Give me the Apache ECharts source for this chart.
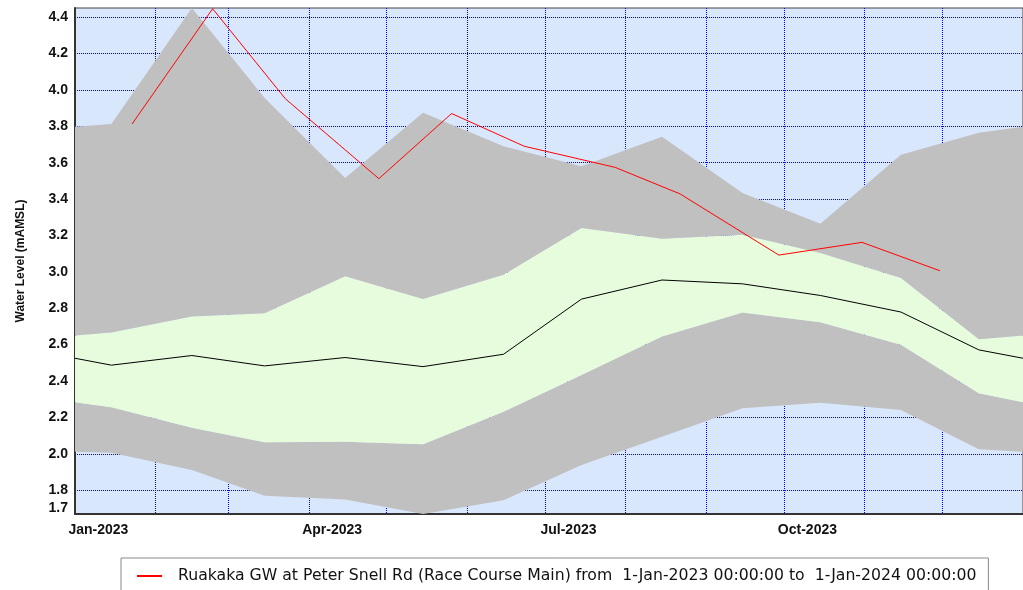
<!DOCTYPE html>
<html>
<head>
<meta charset="utf-8">
<script src="https://cdn.jsdelivr.net/npm/echarts@6/dist/echarts.min.js"></script>
<style>
html, body { margin: 0; padding: 0; background: #fff; }
#chart { width: 1023px; height: 590px; }
</style>
</head>
<body>
<div id="chart"></div>
<script>
// band statistics, one point per mid-month (plus wrap-around year ends)
var bandDates = ['2023-01-01', '2023-01-15', '2023-02-15', '2023-03-15', '2023-04-15', '2023-05-15',
    '2023-06-15', '2023-07-15', '2023-08-15', '2023-09-15', '2023-10-15', '2023-11-15', '2023-12-15', '2024-01-01'];
var bandMax = [3.797, 3.813, 4.45, 3.956, 3.516, 3.874, 3.69, 3.58, 3.742, 3.433, 3.264, 3.644, 3.764, 3.797];
var bandUpper = [2.650, 2.666, 2.754, 2.773, 2.976, 2.85, 2.984, 3.241, 3.182, 3.204, 3.103, 2.966, 2.630, 2.650];
var bandMedian = [2.525, 2.487, 2.540, 2.483, 2.529, 2.479, 2.547, 2.850, 2.955, 2.934, 2.870, 2.779, 2.571, 2.525];
var bandLower = [2.283, 2.256, 2.143, 2.063, 2.066, 2.052, 2.231, 2.433, 2.644, 2.776, 2.723, 2.599, 2.333, 2.283];
var bandMin = [2.011, 2.005, 1.911, 1.769, 1.749, 1.669, 1.745, 1.938, 2.094, 2.250, 2.281, 2.241, 2.025, 2.011];

// 2023 readings
var obsDates = ['2023-01-23', '2023-02-23', '2023-03-23', '2023-04-28', '2023-05-26', '2023-06-23',
    '2023-07-28', '2023-08-22', '2023-09-29', '2023-10-31', '2023-11-30'];
var obsLevels = [3.813, 4.446, 3.951, 3.512, 3.870, 3.690, 3.574, 3.428, 3.092, 3.162, 3.006];

var seriesName = 'Ruakaka GW at Peter Snell Rd (Race Course Main) from  1-Jan-2023 00:00:00 to  1-Jan-2024 00:00:00';

var yLabels = [1.7, 1.8, 2.0, 2.2, 2.4, 2.6, 2.8, 3.0, 3.2, 3.4, 3.6, 3.8, 4.0, 4.2, 4.4];
var yGrid = [1.8, 2.0, 2.2, 2.4, 2.6, 2.8, 3.0, 3.2, 3.4, 3.6, 3.8, 4.0, 4.2, 4.4];
var monthNames = ['Jan', 'Feb', 'Mar', 'Apr', 'May', 'Jun', 'Jul', 'Aug', 'Sep', 'Oct', 'Nov', 'Dec'];
var xLabelMonths = [0, 3, 6, 9];
var xGridMonths = [1, 2, 3, 4, 5, 6, 7, 8, 9, 10, 11];

function ts(s) {
    var p = s.split('-');
    return new Date(+p[0], +p[1] - 1, +p[2]).getTime();
}
function pairs(dates, vals) {
    return dates.map(function (d, i) { return [ts(d), vals[i]]; });
}
function diff(a, b) {
    return a.map(function (v, i) { return +(v - b[i]).toFixed(4); });
}

var gray = '#c0c0c0';
var green = '#e6fcdc';
var xMin = ts('2023-01-01');
var xMax = ts('2024-01-01');

function bandSeries(name, vals, fill) {
    var s = {
        name: name, type: 'line', stack: 'band', symbol: 'none', silent: true,
        lineStyle: { width: 0, opacity: 0 },
        data: pairs(bandDates, vals)
    };
    if (fill) s.areaStyle = { color: fill, opacity: 1 };
    return s;
}

var myChart = echarts.init(document.getElementById('chart'));
var option = {
    animation: false,
    grid: {
        left: 75, top: 8, width: 956, height: 506,
        show: true,
        backgroundColor: '#d9e7fc',
        borderColor: '#444',
        borderWidth: 1
    },
    legend: {
        data: [seriesName],
        left: 121, top: 558,
        padding: [10, 12, 10, 16],
        itemWidth: 25, itemHeight: 2,
        icon: 'rect',
        borderColor: '#8a8a8a',
        borderWidth: 1,
        textStyle: { fontFamily: 'DejaVu Sans', fontSize: 15.7, color: '#111', padding: [0, 0, 0, 11] }
    },
    xAxis: [
        {
            // time axis carries the series (stacking needs a time/category base)
            type: 'time', min: xMin, max: xMax, position: 'bottom',
            axisLine: { show: false }, axisTick: { show: false },
            axisLabel: { show: false }, splitLine: { show: false }
        },
        {
            // same span as a value axis, for hand-placed grid lines and labels
            type: 'value', min: xMin, max: xMax, position: 'bottom',
            axisLine: { onZero: false, lineStyle: { color: '#333', width: 2 } },
            axisTick: {
                show: false,
                customValues: xGridMonths.map(function (m) { return new Date(2023, m, 1).getTime(); })
            },
            axisLabel: {
                customValues: xLabelMonths.map(function (m) { return new Date(2023, m, 10).getTime(); }),
                formatter: function (v) {
                    var d = new Date(v);
                    return monthNames[d.getMonth()] + '-' + d.getFullYear();
                },
                fontFamily: 'Liberation Sans', fontWeight: 'bold', fontSize: 14, color: '#111',
                margin: 9
            },
            splitLine: { show: true, lineStyle: { color: '#0000ff', type: 'dotted', width: 1 } }
        }
    ],
    yAxis: {
        type: 'value',
        min: 'dataMin',
        max: 'dataMax',
        name: 'Water Level (mAMSL)',
        nameLocation: 'middle',
        nameGap: 48,
        nameTextStyle: { fontFamily: 'Liberation Sans', fontWeight: 'bold', fontSize: 12, color: '#111' },
        axisLine: { show: true, onZero: false, lineStyle: { color: '#333', width: 2 } },
        axisTick: { show: false, customValues: yGrid },
        axisLabel: {
            customValues: yLabels,
            formatter: function (v) { return v.toFixed(1); },
            fontFamily: 'Liberation Sans', fontWeight: 'bold', fontSize: 14, color: '#111',
            margin: 7
        },
        splitLine: { show: true, lineStyle: { color: '#0000ff', type: 'dotted', width: 1 } }
    },
    series: [
        bandSeries('min', bandMin, null),
        bandSeries('lower', diff(bandLower, bandMin), gray),
        bandSeries('upper', diff(bandUpper, bandLower), green),
        bandSeries('max', diff(bandMax, bandUpper), gray),
        {
            name: 'median', type: 'line', symbol: 'none', silent: true,
            lineStyle: { color: '#000', width: 1 },
            data: pairs(bandDates, bandMedian)
        },
        {
            name: seriesName, type: 'line', symbol: 'none',
            itemStyle: { color: '#ff0000' },
            lineStyle: { color: '#ff0000', width: 1 },
            data: pairs(obsDates, obsLevels)
        }
    ]
};
myChart.setOption(option);
</script>
</body>
</html>
